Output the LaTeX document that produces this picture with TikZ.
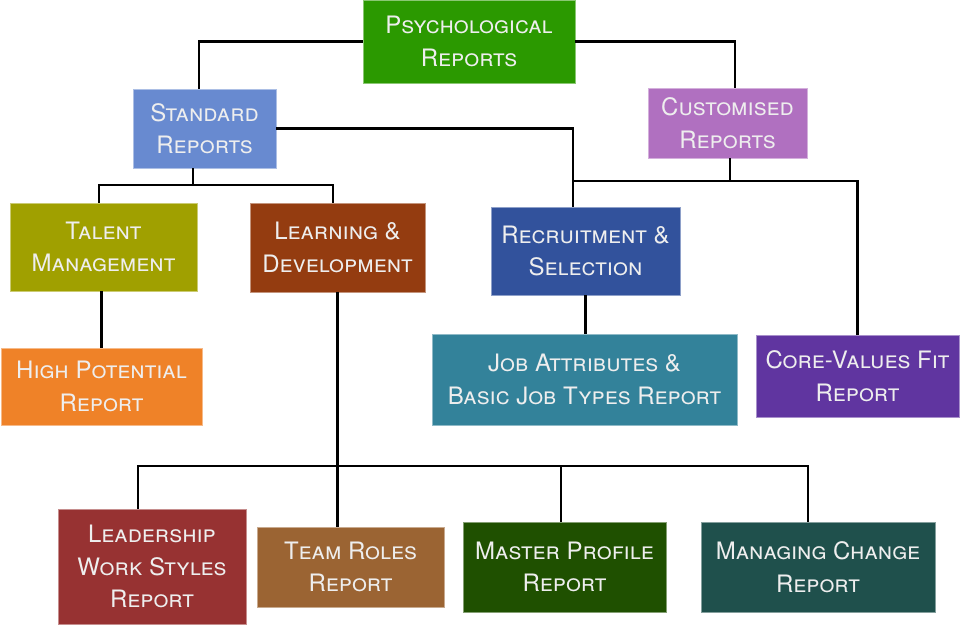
\documentclass[tikz,border=0pt]{standalone}
\usepackage{fontspec}
\setmainfont{TeX Gyre Heros}
\usetikzlibrary{positioning}
\definecolor{cPsych}{RGB}{43,153,0}
\definecolor{cStd}{RGB}{104,138,208}
\definecolor{cCust}{RGB}{176,112,192}
\definecolor{cTal}{RGB}{160,160,0}
\definecolor{cLD}{RGB}{148,60,16}
\definecolor{cRec}{RGB}{50,82,156}
\definecolor{cHP}{RGB}{239,130,40}
\definecolor{cJob}{RGB}{51,130,154}
\definecolor{cCore}{RGB}{96,53,160}
\definecolor{cLead}{RGB}{151,50,50}
\definecolor{cTeam}{RGB}{155,100,51}
\definecolor{cMast}{RGB}{31,80,0}
\definecolor{cMan}{RGB}{31,80,76}
\definecolor{txt}{RGB}{238,238,238}
\tikzset{
  box/.style n args={3}{rectangle, fill=#1, draw=#1!55!white, line width=0.6pt,
    minimum width=#2, minimum height=#3, inner sep=0pt, align=center,
    text=txt, font=\fontsize{24}{32.5}\selectfont\scshape},
  link/.style={line width=2.4pt, black}
}
\begin{document}
\begin{tikzpicture}[x=1pt,y=-1pt]
\useasboundingbox (0,0) rectangle (960,625);
\node[box={cPsych}{212pt}{83pt}] (psych) at (469,41.5) {Psychological\\Reports};
\node[box={cStd}{143pt}{79pt}] (std) at (204.5,128.5) {Standard\\Reports};
\node[box={cCust}{159pt}{70pt}] (cust) at (727.5,123) {Customised\\Reports};
\node[box={cTal}{187pt}{88pt}] (talent) at (103.5,247) {Talent\\Management};
\node[box={cLD}{175pt}{89pt}] (ld) at (337.5,247.5) {Learning \&\\Development};
\node[box={cRec}{189pt}{88pt}] (rec) at (585.5,251) {Recruitment \&\\Selection};
\node[box={cHP}{201pt}{77pt}] (hp) at (101.5,386.5) {High Potential\\Report};
\node[box={cJob}{305pt}{91pt}] (job) at (584.5,379.5) {Job Attributes \&\\Basic Job Types Report};
\node[box={cCore}{203pt}{82pt}] (core) at (857.5,376) {Core-Values Fit\\Report};
\node[box={cLead}{188pt}{115pt}] (lead) at (152,566.5) {Leadership\\Work Styles\\Report};
\node[box={cTeam}{187pt}{80pt}] (team) at (350.5,567) {Team Roles\\Report};
\node[box={cMast}{203pt}{90pt}] (master) at (564.5,567) {Master Profile\\Report};
\node[box={cMan}{234pt}{90pt}] (manage) at (818,567) {Managing Change\\Report};
\coordinate (ja) at (573,181);
\coordinate (jb) at (730,181);
\coordinate (jc) at (193,185);
\coordinate (jd) at (337.5,466);
% connectors
\draw[link] (psych.west) -| ([xshift=-5.5pt]std.north);
\draw[link] (psych.east) -| ([xshift=7.5pt]cust.north);
\draw[link] (std.east) -| ([xshift=-12.5pt]rec.north);
\draw[link] (ja) -| (core.north);
\draw[link] ([xshift=2.5pt]cust.south) -- (jb);
\draw[link] ([xshift=-11.5pt]std.south) -- (jc);
\draw[link] ([xshift=-4.5pt]talent.north) |- (jc) -| ([xshift=-4.5pt]ld.north);
\draw[link] (hp.north) -- (hp.north |- talent.south);
\draw[link] (ld.south) -- (ld.south |- team.north);
\draw[link] ([xshift=-14pt]lead.north) |- (jd) -| ([xshift=-10pt]manage.north);
\draw[link] ([xshift=-3.5pt]master.north) -- ([xshift=-3.5pt]master.north |- jd);
\draw[link] (rec.south) -- (rec.south |- job.north);
\end{tikzpicture}
\end{document}
